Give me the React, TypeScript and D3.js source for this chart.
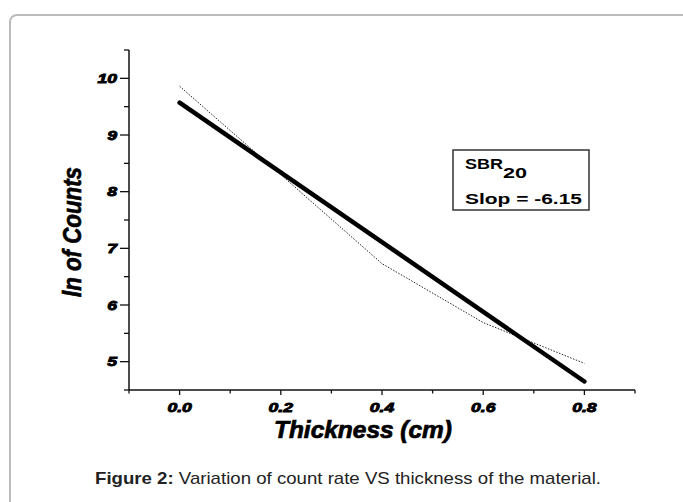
import React from "react";
import * as d3 from "d3";

// Data
const thickness = [0.0, 0.2, 0.4, 0.6, 0.8];
const lnCounts = [9.86, 8.3, 6.73, 5.69, 4.97];
const fitX = [0.0, 0.8];
const fitY = [9.57, 4.65];
const xTicks = [0.0, 0.2, 0.4, 0.6, 0.8];
const xTickLabels = ["0.0", "0.2", "0.4", "0.6", "0.8"];
const yTicks = [5, 6, 7, 8, 9, 10];
const yTickLabels = ["5", "6", "7", "8", "9", "10"];
const legendName = "SBR";
const legendSub = "20";
const legendSlope = "Slop = -6.15";

const W = 683;
const H = 502;
const SX = 1.35; // horizontal stretch of the embedded figure

export default function App() {
  const x = d3.scaleLinear().domain([-0.1, 0.9]).range([129, 635]);
  const y = d3.scaleLinear().domain([4.5, 10.5]).range([390, 50]);

  const line = d3
    .line<[number, number]>()
    .x((d) => x(d[0]))
    .y((d) => y(d[1]));

  const dataPts: [number, number][] = thickness.map((t, i) => [t, lnCounts[i]]);
  const fitPts: [number, number][] = fitX.map((t, i) => [t, fitY[i]]);

  const xMinor = d3.range(-0.1, 0.91, 0.1).map((v) => Math.round(v * 10) / 10);
  const yMinor = d3.range(4.5, 10.51, 0.5);

  const tickFont = "'Liberation Sans', Arial, sans-serif";
  const axisColor = "#111";

  return (
    <svg
      width={W}
      height={H}
      style={{ position: "absolute", left: 0, top: 0, background: "#fff" }}
    >
      {/* card */}
      <rect x={10} y={15} width={720} height={540} rx={7} fill="#fff" stroke="#bbb" strokeWidth={2} />

      {/* axes */}
      <line x1={x(-0.1)} x2={x(0.9)} y1={y(4.5)} y2={y(4.5)} stroke={axisColor} strokeWidth={1.5} />
      <line x1={x(-0.1)} x2={x(-0.1)} y1={y(4.5)} y2={y(10.5)} stroke={axisColor} strokeWidth={1.5} />

      {/* x ticks */}
      {xMinor.map((v, i) => {
        const major = xTicks.some((t) => Math.abs(t - v) < 1e-6);
        return (
          <line
            key={"xt" + i}
            x1={x(v)}
            x2={x(v)}
            y1={y(4.5)}
            y2={y(4.5) + (major ? 5 : 3.5)}
            stroke={axisColor}
            strokeWidth={1.3}
          />
        );
      })}
      {/* y ticks */}
      {yMinor.map((v, i) => {
        const major = yTicks.some((t) => Math.abs(t - v) < 1e-6);
        return (
          <line
            key={"yt" + i}
            x1={x(-0.1)}
            x2={x(-0.1) - (major ? 9 : 5)}
            y1={y(v)}
            y2={y(v)}
            stroke={axisColor}
            strokeWidth={1.3}
          />
        );
      })}

      {/* x tick labels */}
      {xTicks.map((v, i) => (
        <text
          key={"xl" + i}
          transform={`translate(${x(v)},${412}) scale(${SX},1)`}
          textAnchor="middle"
          fontFamily={tickFont}
          fontWeight="bold"
          fontStyle="italic"
          fontSize={13}
          fill="#000"
          stroke="#000"
          strokeWidth={0.9}
        >
          {xTickLabels[i]}
        </text>
      ))}
      {/* y tick labels */}
      {yTicks.map((v, i) => (
        <text
          key={"yl" + i}
          transform={`translate(${117},${y(v) + 4.8}) scale(${SX},1)`}
          textAnchor="end"
          fontFamily={tickFont}
          fontWeight="bold"
          fontStyle="italic"
          fontSize={13}
          fill="#000"
          stroke="#000"
          strokeWidth={0.9}
        >
          {yTickLabels[i]}
        </text>
      ))}

      {/* axis titles */}
      <text
        x={363}
        y={438}
        textAnchor="middle"
        fontFamily={tickFont}
        fontWeight="bold"
        fontStyle="italic"
        fontSize={23}
        textLength={178}
        lengthAdjust="spacingAndGlyphs"
        fill="#000"
        stroke="#000"
        strokeWidth={0.7}
      >
        Thickness (cm)
      </text>
      <text
        transform={`translate(81,232) scale(1.3,1) rotate(-90)`}
        textAnchor="middle"
        fontFamily={tickFont}
        fontWeight="bold"
        fontStyle="italic"
        fontSize={20}
        textLength={130}
        lengthAdjust="spacingAndGlyphs"
        fill="#000"
        stroke="#000"
        strokeWidth={0.5}
      >
        ln of Counts
      </text>

      {/* data (dotted) */}
      <path
        d={line(dataPts) || ""}
        fill="none"
        stroke="#222"
        strokeWidth={1}
        strokeDasharray="1.5,1.5"
      />
      {/* linear fit */}
      <path
        d={line(fitPts) || ""}
        fill="none"
        stroke="#000"
        strokeWidth={4.5}
        strokeLinecap="round"
      />

      {/* legend */}
      <rect x={453} y={150} width={136} height={60} fill="#fff" stroke="#333" strokeWidth={1.5} />
      <text
        x={465}
        y={168.5}
        fontFamily={tickFont}
        fontWeight="bold"
        fontSize={14}
        fill="#000"
      >
        <tspan textLength={38} lengthAdjust="spacingAndGlyphs">{legendName}</tspan>
        <tspan dy={9} textLength={24} lengthAdjust="spacingAndGlyphs">{legendSub}</tspan>
      </text>
      <text
        x={465}
        y={204}
        fontFamily={tickFont}
        fontWeight="bold"
        fontSize={14}
        textLength={117}
        lengthAdjust="spacingAndGlyphs"
        fill="#000"
      >
        {legendSlope}
      </text>

      {/* caption */}
      <text
        x={95}
        y={484}
        fontFamily={tickFont}
        fontSize={17}
        textLength={506}
        lengthAdjust="spacingAndGlyphs"
        fill="#222"
      >
        <tspan fontWeight="bold">Figure 2:</tspan>
        <tspan> Variation of count rate VS thickness of the material.</tspan>
      </text>
    </svg>
  );
}
